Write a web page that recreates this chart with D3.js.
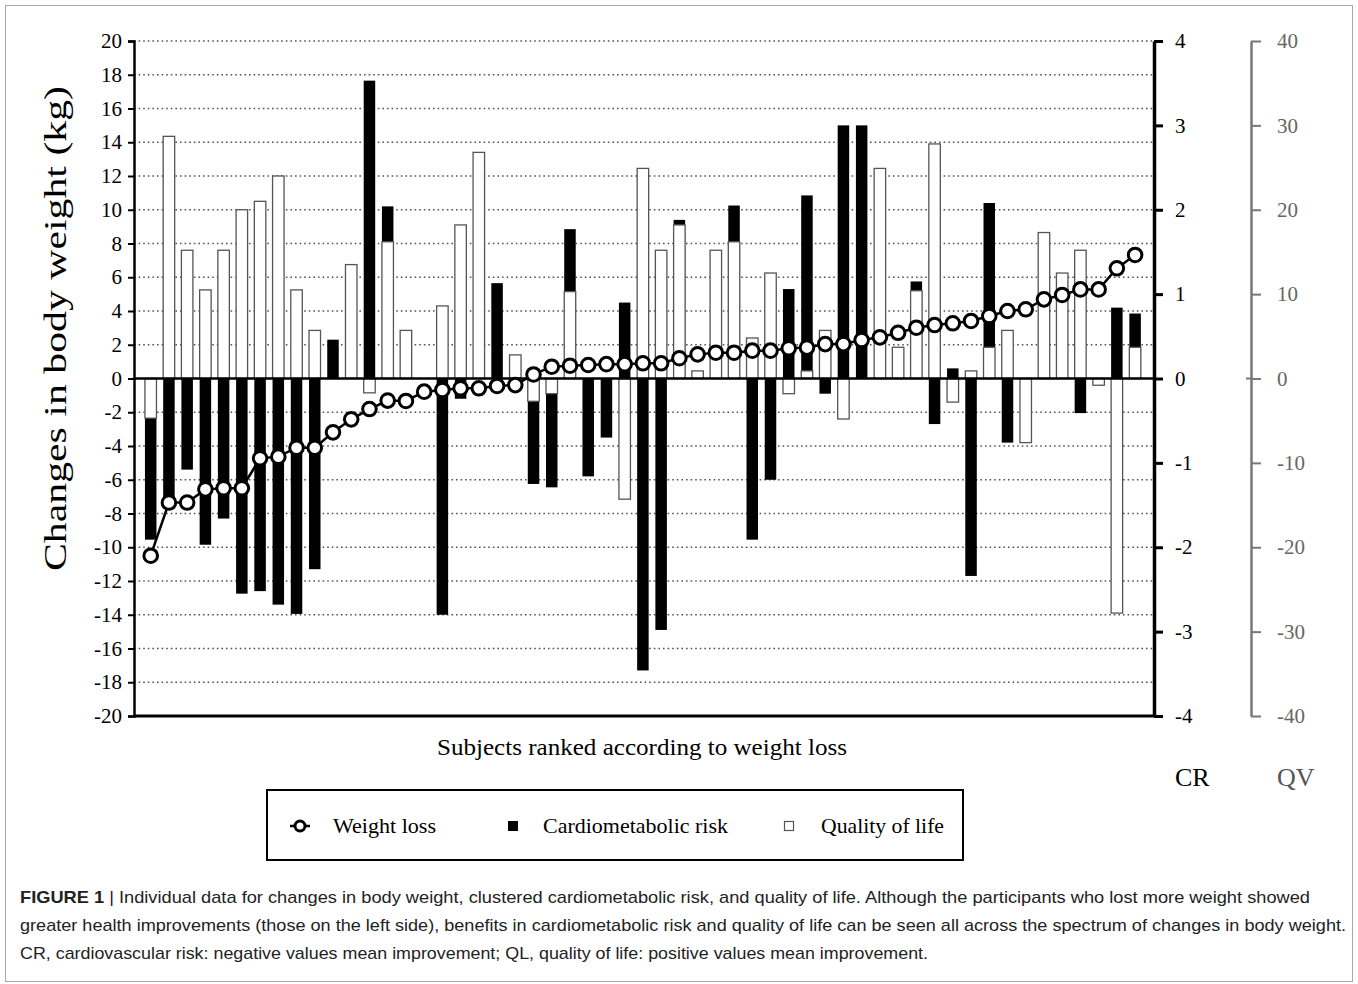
<!DOCTYPE html>
<html>
<head>
<meta charset="utf-8">
<script src="https://cdn.jsdelivr.net/npm/d3@7"></script>
<style>
  body { margin: 0; background: #fff; }
  svg text { font-family: "Liberation Serif", "DejaVu Serif", serif; }
</style>
</head>
<body>
<div id="chart"></div>
<script>
// ---------- data ----------
// weight change per subject, kg (ranked)
const weightLoss = [
  -10.5, -7.35, -7.35, -6.57, -6.5, -6.5, -4.73, -4.63, -4.1, -4.1,
  -3.19, -2.42, -1.81, -1.31, -1.33, -0.78, -0.68, -0.58, -0.58, -0.44,
  -0.39, 0.24, 0.7, 0.76, 0.8, 0.85, 0.85, 0.9, 0.9, 1.2,
  1.43, 1.53, 1.53, 1.65, 1.65, 1.79, 1.83, 2.04, 2.04, 2.28,
  2.44, 2.71, 3.01, 3.17, 3.27, 3.41, 3.7, 4.0, 4.1, 4.69,
  4.95, 5.28, 5.28, 6.53, 7.32
];
// clustered cardiometabolic risk change (CR axis)
const cardioRisk = [
  -1.91, -1.48, -1.08, -1.97, -1.66, -2.55, -2.52, -2.68, -2.79, -2.26,
  0.46, 0, 3.53, 2.04, 0, 0, -2.8, -0.24, 0, 1.13,
  0, -1.25, -1.29, 1.77, -1.16, -0.7, 0.9, -3.46, -2.98, 1.88,
  0, 0, 2.05, -1.91, -1.2, 1.06, 2.17, -0.18, 3.0, 3.0,
  0, 0, 1.15, -0.54, 0.12, -2.34, 2.08, -0.76, 0, 0,
  0, -0.41, 0, 0.84, 0.77
];
// quality of life change (QV axis)
const qualityLife = [
  -4.7, 28.7, 15.2, 10.5, 15.2, 20.0, 21.0, 24.0, 10.5, 5.7,
  0, 13.5, -1.7, 16.2, 5.7, 0, 8.6, 18.2, 26.8, 0,
  2.8, -2.7, -1.8, 10.3, 0, 0, -14.3, 24.9, 15.2, 18.2,
  0.9, 15.2, 16.2, 4.8, 12.5, -1.8, 0.9, 5.7, -4.8, 0,
  24.9, 3.7, 10.4, 27.8, -2.8, 0.9, 3.7, 5.7, -7.6, 17.3,
  12.5, 15.2, -0.8, -27.8, 3.7
];
const kgTicks = d3.range(-20, 21, 2);
const crTicks = [-4, -3, -2, -1, 0, 1, 2, 3, 4];
const qvTicks = [-40, -30, -20, -10, 0, 10, 20, 30, 40];
const legendItems = ["Weight loss", "Cardiometabolic risk", "Quality of life"];
const captionLines = [
  "Individual data for changes in body weight, clustered cardiometabolic risk, and quality of life. Although the participants who lost more weight showed",
  "greater health improvements (those on the left side), benefits in cardiometabolic risk and quality of life can be seen all across the spectrum of changes in body weight.",
  "CR, cardiovascular risk: negative values mean improvement; QL, quality of life: positive values mean improvement."
];

// ---------- svg ----------
const W = 1358, H = 984;
const svg = d3.select("#chart").append("svg").attr("width", W).attr("height", H);

// outer frame
svg.append("rect")
  .attr("x", 5.5).attr("y", 5.5).attr("width", W - 11).attr("height", H - 8)
  .attr("fill", "none").attr("stroke", "#a8a8a8").attr("stroke-width", 1);

const pL = 134, pR = 1154, pT = 41, pB = 716;
const subjects = d3.range(weightLoss.length);

const x = d3.scalePoint().domain(subjects).range([150.7, 1135.1]);
const yKg = d3.scaleLinear().domain([-20, 20]).range([pB, pT]);
const yCR = d3.scaleLinear().domain([-4, 4]).range([pB, pT]);
const yQV = d3.scaleLinear().domain([-40, 40]).range([pB, pT]);
const barW = 11.5;
const hyphen = d => String(d); // figure uses plain hyphen for negatives

// gridlines
svg.append("g")
  .selectAll("line")
  .data(kgTicks.filter(t => t !== 0 && t !== -20))
  .join("line")
  .attr("x1", pL).attr("x2", pR)
  .attr("y1", d => yKg(d)).attr("y2", d => yKg(d))
  .attr("stroke", "#555").attr("stroke-width", 1.6)
  .attr("stroke-dasharray", "1.6,3");

// cardiometabolic risk bars (behind)
svg.append("g")
  .selectAll("rect")
  .data(subjects.filter(i => cardioRisk[i] !== 0))
  .join("rect")
  .attr("x", i => x(i) - barW / 2)
  .attr("width", barW)
  .attr("y", i => Math.min(yCR(cardioRisk[i]), yCR(0)))
  .attr("height", i => Math.abs(yCR(cardioRisk[i]) - yCR(0)))
  .attr("fill", "#000");

// quality of life bars (front)
svg.append("g")
  .selectAll("rect")
  .data(subjects.filter(i => qualityLife[i] !== 0))
  .join("rect")
  .attr("x", i => x(i) - barW / 2)
  .attr("width", barW)
  .attr("y", i => Math.min(yQV(qualityLife[i]), yQV(0)))
  .attr("height", i => Math.abs(yQV(qualityLife[i]) - yQV(0)))
  .attr("fill", "#fff").attr("stroke", "#555").attr("stroke-width", 1.3);

// zero line and bottom line
svg.append("line")
  .attr("x1", pL).attr("x2", pR).attr("y1", yKg(0)).attr("y2", yKg(0))
  .attr("stroke", "#000").attr("stroke-width", 2.5);
svg.append("line")
  .attr("x1", pL).attr("x2", pR).attr("y1", pB).attr("y2", pB)
  .attr("stroke", "#000").attr("stroke-width", 3);

// weight loss line + markers
const line = d3.line().x(i => x(i)).y(i => yKg(weightLoss[i]));
svg.append("path")
  .datum(subjects)
  .attr("d", line)
  .attr("fill", "none").attr("stroke", "#000").attr("stroke-width", 2.5);
svg.append("g")
  .selectAll("circle")
  .data(subjects)
  .join("circle")
  .attr("cx", i => x(i)).attr("cy", i => yKg(weightLoss[i]))
  .attr("r", 6.8)
  .attr("fill", "#fff").attr("stroke", "#000").attr("stroke-width", 3);

// left axis
const axL = svg.append("g")
  .attr("transform", `translate(${pL},0)`)
  .call(d3.axisLeft(yKg).tickValues(kgTicks).tickFormat(hyphen).tickSize(6).tickPadding(6));
axL.select(".domain").attr("stroke-width", 2.5);
axL.selectAll(".tick line").attr("stroke-width", 2);
axL.selectAll(".tick text")
  .attr("font-size", 21).attr("fill", "#000")
  .style("font-family", "'Liberation Serif', serif");

// CR axis
const axR = svg.append("g")
  .attr("transform", `translate(${pR},0)`)
  .call(d3.axisRight(yCR).tickValues(crTicks).tickFormat(hyphen).tickSize(9).tickPadding(12).tickSizeOuter(0));
axR.select(".domain").attr("stroke-width", 3.5);
axR.selectAll(".tick line").attr("stroke-width", 3);
axR.selectAll(".tick text")
  .attr("font-size", 21).attr("fill", "#000")
  .style("font-family", "'Liberation Serif', serif");

// QV axis
const axQ = svg.append("g")
  .attr("transform", "translate(1251,0)")
  .call(d3.axisRight(yQV).tickValues(qvTicks).tickFormat(hyphen).tickSize(10).tickPadding(16).tickSizeOuter(0));
axQ.select(".domain").attr("stroke", "#777").attr("stroke-width", 2.5);
axQ.selectAll(".tick line").attr("stroke", "#777").attr("stroke-width", 2);
axQ.selectAll(".tick text")
  .attr("font-size", 21).attr("fill", "#666")
  .style("font-family", "'Liberation Serif', serif");
axQ.append("line")
  .attr("x1", -5).attr("x2", 0).attr("y1", yQV(0)).attr("y2", yQV(0))
  .attr("stroke", "#777").attr("stroke-width", 2);

// axis titles
svg.append("text")
  .attr("transform", `translate(66,${(pT + pB) / 2 - 50}) rotate(-90)`)
  .attr("text-anchor", "middle")
  .attr("font-size", 31)
  .attr("textLength", 485).attr("lengthAdjust", "spacingAndGlyphs")
  .text("Changes in body weight (kg)");
svg.append("text")
  .attr("x", 642).attr("y", 755)
  .attr("text-anchor", "middle").attr("font-size", 23)
  .attr("textLength", 410).attr("lengthAdjust", "spacingAndGlyphs")
  .text("Subjects ranked according to weight loss");
svg.append("text").attr("x", 1175).attr("y", 786).attr("font-size", 26).text("CR");
svg.append("text").attr("x", 1277).attr("y", 786).attr("font-size", 26).attr("fill", "#555").text("QV");

// legend
const lg = svg.append("g");
lg.append("rect")
  .attr("x", 267).attr("y", 790).attr("width", 696).attr("height", 70)
  .attr("fill", "none").attr("stroke", "#000").attr("stroke-width", 2);
lg.append("line").attr("x1", 290).attr("x2", 310).attr("y1", 826).attr("y2", 826)
  .attr("stroke", "#000").attr("stroke-width", 2.5);
lg.append("circle").attr("cx", 300).attr("cy", 826).attr("r", 5)
  .attr("fill", "#fff").attr("stroke", "#000").attr("stroke-width", 3);
lg.append("rect").attr("x", 508).attr("y", 821).attr("width", 10).attr("height", 10).attr("fill", "#000");
lg.append("rect").attr("x", 784.5).attr("y", 821.5).attr("width", 9).attr("height", 9)
  .attr("fill", "#fff").attr("stroke", "#555").attr("stroke-width", 1.2);
const legendX = [333, 543, 821];
const legendLen = [103, 185, 123];
legendItems.forEach((t, k) => {
  lg.append("text").attr("x", legendX[k]).attr("y", 833)
    .attr("font-size", 21)
    .attr("textLength", legendLen[k]).attr("lengthAdjust", "spacingAndGlyphs")
    .text(t);
});

// caption
const cap = svg.append("g");
const capY = [903, 931, 959];
const capLen = [1290, 1326, 908];
captionLines.forEach((t, k) => {
  const tx = cap.append("text")
    .attr("x", 20).attr("y", capY[k])
    .attr("font-size", 17).attr("fill", "#222")
    .style("font-family", "'Liberation Sans', Arial, sans-serif")
    .attr("textLength", capLen[k]).attr("lengthAdjust", "spacingAndGlyphs");
  if (k === 0) {
    tx.append("tspan").attr("font-weight", "bold").text("FIGURE 1");
    tx.append("tspan").text(" | " + t);
  } else {
    tx.text(t);
  }
});
</script>
</body>
</html>
